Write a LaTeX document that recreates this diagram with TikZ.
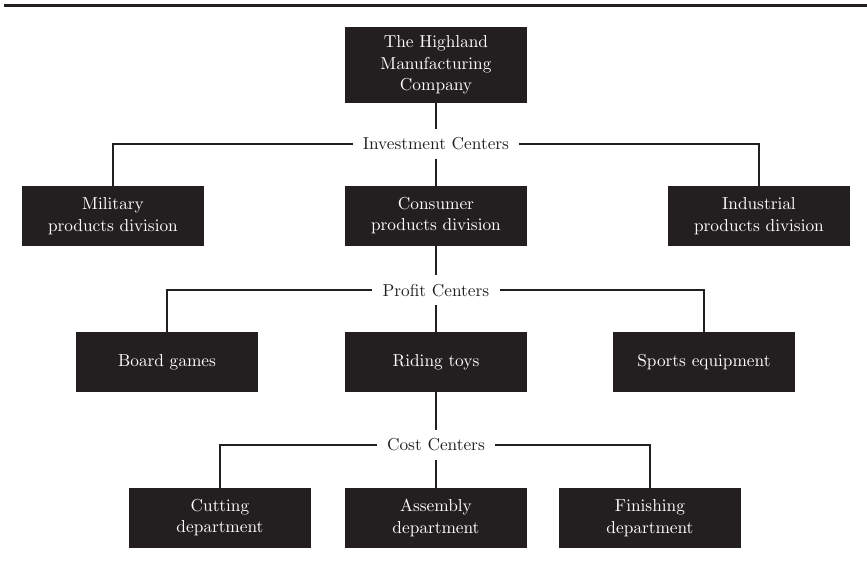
\documentclass[tikz,border=0pt]{standalone}
\definecolor{inkc}{HTML}{231F20}
\font\hlboxfont=cmr10 at 17.3bp
\newcommand{\boxfont}{\hlboxfont\baselineskip=21.5bp\relax}
\begin{document}
\begin{tikzpicture}[x=1bp,y=-1bp,
  box/.style={fill=inkc, text=white, minimum width=182bp, minimum height=60bp, inner sep=0pt, align=center, font=\boxfont},
  lab/.style={fill=white, text=inkc, inner xsep=10bp, inner ysep=0pt, minimum height=29bp, font=\boxfont},
  conn/.style={draw=inkc, line width=2.4bp},
  rule/.style={draw=inkc, line width=2.7bp}]
\useasboundingbox (0,0) rectangle (867,563);
\coordinate (ruleL) at (4,5.3);
\coordinate (ruleR) at (867,5.3);
\draw[rule] (ruleL) -- (ruleR);

\node[box, minimum height=76bp] (hq) at (436,65) {The Highland\\Manufacturing\\Company};
\node[lab] (inv) at (436,144) {Investment Centers};
\node[box] (mil) at (113,216) {Military\\products division};
\node[box] (con) at (436,216) {Consumer\\products division};
\node[box] (ind) at (759,216) {Industrial\\products division};
\node[lab] (pro) at (436,290) {Profit Centers};
\node[box] (brd) at (167,362) {Board games};
\node[box] (rid) at (436,362) {Riding toys};
\node[box] (spt) at (704,362) {Sports equipment};
\node[lab] (cst) at (436,445) {Cost Centers};
\node[box] (cut) at (220,518) {Cutting\\department};
\node[box] (asm) at (436,518) {Assembly\\department};
\node[box] (fin) at (650,518) {Finishing\\department};

\draw[conn] (hq) -- (inv);
\draw[conn] (inv) -- (con);
\draw[conn] (inv.west) -| (mil.north);
\draw[conn] (inv.east) -| (ind.north);
\draw[conn] (con) -- (pro);
\draw[conn] (pro) -- (rid);
\draw[conn] (pro.west) -| (brd.north);
\draw[conn] (pro.east) -| (spt.north);
\draw[conn] (rid) -- (cst);
\draw[conn] (cst) -- (asm);
\draw[conn] (cst.west) -| (cut.north);
\draw[conn] (cst.east) -| (fin.north);
\end{tikzpicture}
\end{document}
